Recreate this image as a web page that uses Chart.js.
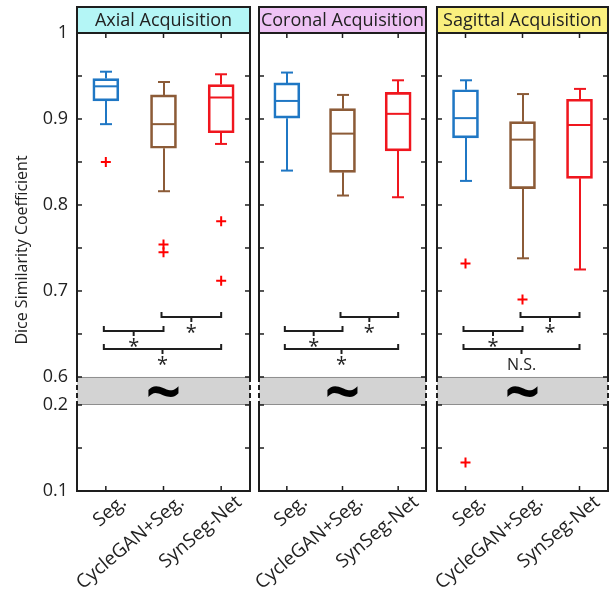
<!DOCTYPE html>
<html>
<head>
<meta charset="utf-8">
<script src="https://cdn.jsdelivr.net/npm/chart.js@4.4.1/dist/chart.umd.min.js"></script>
<style>
html,body{margin:0;padding:0;background:#fff;}
#wrap{position:relative;width:615px;height:589px;overflow:hidden;}
.pc{position:absolute;left:0;top:0;width:615px;height:589px;}
</style>
</head>
<body>
<div id="wrap">
  <div class="pc"><canvas id="c0"></canvas></div>
  <div class="pc"><canvas id="c1"></canvas></div>
  <div class="pc"><canvas id="c2"></canvas></div>
</div>
<script>
// ---------------- DATA ----------------
const categories = ['Seg.', 'CycleGAN+Seg.', 'SynSeg-Net'];
const panelTitles = ['Axial Acquisition', 'Coronal Acquisition', 'Sagittal Acquisition'];
const yAxisTitle = 'Dice Similarity Coefficient';
const yTickValues = [0.1, 0.2, 0.6, 0.7, 0.8, 0.9, 1.0];
const yTickLabels = ['0.1', '0.2', '0.6', '0.7', '0.8', '0.9', '1'];
const yMinorTicks = [0.1, 0.15, 0.2, 0.6, 0.65, 0.7, 0.75, 0.8, 0.85, 0.9, 0.95, 1.0];

const axialLow    = [0.894, 0.816, 0.871];
const axialQ1     = [0.921, 0.866, 0.884];
const axialMedian = [0.938, 0.894, 0.925];
const axialQ3     = [0.947, 0.928, 0.940];
const axialHigh   = [0.955, 0.943, 0.952];
const axialOutliers = [[0.850], [0.754, 0.745], [0.781, 0.712]];
const axialSig = ['*', '*', '*'];

const coronalLow    = [0.840, 0.811, 0.809];
const coronalQ1     = [0.901, 0.838, 0.863];
const coronalMedian = [0.921, 0.883, 0.906];
const coronalQ3     = [0.942, 0.912, 0.931];
const coronalHigh   = [0.954, 0.928, 0.945];
const coronalOutliers = [[], [], []];
const coronalSig = ['*', '*', '*'];

const sagittalLow    = [0.828, 0.738, 0.725];
const sagittalQ1     = [0.878, 0.819, 0.831];
const sagittalMedian = [0.901, 0.876, 0.893];
const sagittalQ3     = [0.934, 0.897, 0.923];
const sagittalHigh   = [0.945, 0.929, 0.935];
const sagittalOutliers = [[0.732, 0.133], [0.690], []];
const sagittalSig = ['*', '*', 'N.S.'];

// significance brackets: category pairs and the data level of each bracket
const bracketPairs = [[0, 1], [1, 2], [0, 2]];
const bracketLevels = [0.654, 0.670, 0.632];

// ---------------- STYLE / LAYOUT ----------------
const boxColors = ['#1f77c4', '#8c5b37', '#f0161e'];
const outlierColor = '#ff0000';
const headerColors = ['#b4f6f6', '#efc3f5', '#faf07e'];
const inkColor = '#1e1e1e';
const textColor = '#222';
const FONT = '"Open Sans", "Noto Sans", sans-serif';
const panelLeft  = [77, 259, 437];
const panelRight = [250, 426, 611];
const PLOT_TOP = 33, HEADER_TOP = 7, XAXIS_H = 98;

const stats = [
  {low: axialLow, q1: axialQ1, med: axialMedian, q3: axialQ3, high: axialHigh, out: axialOutliers, sig: axialSig},
  {low: coronalLow, q1: coronalQ1, med: coronalMedian, q3: coronalQ3, high: coronalHigh, out: coronalOutliers, sig: coronalSig},
  {low: sagittalLow, q1: sagittalQ1, med: sagittalMedian, q3: sagittalQ3, high: sagittalHigh, out: sagittalOutliers, sig: sagittalSig}
];

// ---------------- broken y scale ----------------
const BREAK_LO = 0.2, BREAK_HI = 0.6, BREAK_GAP = 0.0326;
class BrokenLinearScale extends Chart.LinearScale {
  static id = 'brokenLinear';
  static defaults = {};
  _tf(v) {
    if (v <= BREAK_LO) return v;
    if (v >= BREAK_HI) return v - (BREAK_HI - BREAK_LO) + BREAK_GAP;
    return BREAK_LO + (v - BREAK_LO) / (BREAK_HI - BREAK_LO) * BREAK_GAP;
  }
  _itf(t) {
    if (t <= BREAK_LO) return t;
    if (t >= BREAK_LO + BREAK_GAP) return t + (BREAK_HI - BREAK_LO) - BREAK_GAP;
    return BREAK_LO + (t - BREAK_LO) / BREAK_GAP * (BREAK_HI - BREAK_LO);
  }
  getPixelForValue(v) {
    if (v === null || v === undefined || isNaN(v)) return NaN;
    const a = this._tf(this.min), b = this._tf(this.max);
    return this.getPixelForDecimal((this._tf(v) - a) / (b - a));
  }
  getValueForPixel(p) {
    const a = this._tf(this.min), b = this._tf(this.max);
    return this._itf(a + this.getDecimalForPixel(p) * (b - a));
  }
}
Chart.register(BrokenLinearScale);

function seg(ctx, x1, y1, x2, y2) { ctx.beginPath(); ctx.moveTo(x1, y1); ctx.lineTo(x2, y2); ctx.stroke(); }

function makePlugin(p) {
  const s = stats[p];
  return {
    id: 'panelDecor' + p,
    beforeDatasetsDraw(chart) {
      const {ctx, chartArea: a} = chart;
      const y = chart.scales.y;
      const yt = y.getPixelForValue(BREAK_HI), yb = y.getPixelForValue(BREAK_LO);
      ctx.save();
      ctx.fillStyle = '#d3d3d3';
      ctx.fillRect(a.left, yt, a.right - a.left, yb - yt);
      ctx.strokeStyle = '#8e8e8e'; ctx.lineWidth = 1;
      seg(ctx, a.left, yt + 0.5, a.right, yt + 0.5);
      seg(ctx, a.left, yb - 0.5, a.right, yb - 0.5);
      ctx.fillStyle = '#000';
      ctx.font = 'bold 62px ' + FONT;
      ctx.textAlign = 'center'; ctx.textBaseline = 'middle';
      ctx.fillText('~', (a.left + a.right) / 2, (yt + yb) / 2 + 5);
      ctx.restore();
    },
    afterDatasetsDraw(chart) {
      const {ctx, chartArea: a} = chart;
      const x = chart.scales.x, y = chart.scales.y;
      ctx.save();
      // whiskers, caps, medians
      ctx.lineWidth = 2;
      for (let i = 0; i < categories.length; i++) {
        const cx = Math.round(x.getPixelForValue(i));
        ctx.strokeStyle = boxColors[i];
        const pl = y.getPixelForValue(s.low[i]), p1 = y.getPixelForValue(s.q1[i]);
        const p3 = y.getPixelForValue(s.q3[i]), ph = y.getPixelForValue(s.high[i]);
        const pm = y.getPixelForValue(s.med[i]);
        seg(ctx, cx, ph, cx, p3);
        seg(ctx, cx, p1, cx, pl);
        seg(ctx, cx - 6, ph, cx + 6, ph);
        seg(ctx, cx - 6, pl, cx + 6, pl);
        seg(ctx, cx - 12, pm, cx + 12, pm);
      }
      // significance brackets
      ctx.strokeStyle = inkColor; ctx.fillStyle = textColor; ctx.lineWidth = 2;
      ctx.textAlign = 'center';
      bracketPairs.forEach((pr, k) => {
        const xa = x.getPixelForValue(pr[0]) - 2, xb = x.getPixelForValue(pr[1]);
        const yy = Math.round(y.getPixelForValue(bracketLevels[k]));
        const xm = (xa + xb) / 2;
        ctx.beginPath();
        ctx.moveTo(xa, yy - 5); ctx.lineTo(xa, yy); ctx.lineTo(xb, yy); ctx.lineTo(xb, yy - 5);
        ctx.stroke();
        seg(ctx, xm, yy, xm, yy + 5);
        const lab = s.sig[k];
        if (lab === '*') {
          ctx.font = '20px ' + FONT; ctx.textBaseline = 'alphabetic';
          ctx.fillText(lab, xm, yy + 22);
        } else {
          ctx.font = '16px ' + FONT; ctx.textBaseline = 'middle';
          ctx.fillText(lab, xm, yy + 16);
        }
      });
      // frame
      const yt = y.getPixelForValue(BREAK_HI), yb = y.getPixelForValue(BREAK_LO);
      ctx.strokeStyle = inkColor; ctx.lineWidth = 2;
      [a.left, a.right].forEach(xx => {
        seg(ctx, xx, a.top, xx, yt);
        seg(ctx, xx, yb, xx, a.bottom + 1);
        ctx.setLineDash([5, 3]);
        seg(ctx, xx, yt, xx, yb);
        ctx.setLineDash([]);
      });
      seg(ctx, a.left - 1, a.bottom, a.right + 1, a.bottom);
      // inward ticks
      ctx.lineWidth = 1.5;
      yMinorTicks.forEach(v => {
        const yy = y.getPixelForValue(v);
        seg(ctx, a.left, yy, a.left + 5, yy);
        seg(ctx, a.right - 5, yy, a.right, yy);
      });
      for (let i = 0; i < categories.length; i++) {
        const cx = x.getPixelForValue(i);
        seg(ctx, cx, a.top, cx, a.top + 5);
        seg(ctx, cx, a.bottom, cx, a.bottom - 5);
      }
      // header
      ctx.fillStyle = headerColors[p];
      ctx.fillRect(a.left, HEADER_TOP, a.right - a.left, a.top - HEADER_TOP);
      ctx.lineWidth = 2; ctx.strokeStyle = inkColor;
      ctx.strokeRect(a.left, HEADER_TOP, a.right - a.left, a.top - HEADER_TOP);
      ctx.fillStyle = textColor; ctx.font = '18px ' + FONT;
      ctx.textAlign = 'center'; ctx.textBaseline = 'middle';
      ctx.fillText(panelTitles[p], (a.left + a.right) / 2, (HEADER_TOP + a.top) / 2 + 1);
      // y title (first panel only)
      if (p === 0) {
        ctx.save();
        ctx.translate(22, 250);
        ctx.rotate(-Math.PI / 2);
        ctx.font = '16px ' + FONT; ctx.fillStyle = textColor;
        ctx.textAlign = 'center'; ctx.textBaseline = 'middle';
        ctx.fillText(yAxisTitle, 0, 0);
        ctx.restore();
      }
      ctx.restore();
    }
  };
}

function makeChart(p) {
  const s = stats[p];
  const outlierPoints = [];
  s.out.forEach((arr, i) => arr.forEach(v => outlierPoints.push({x: categories[i], y: v})));
  return new Chart(document.getElementById('c' + p), {
    type: 'bar',
    data: {
      labels: categories,
      datasets: [
        {
          type: 'bar',
          data: s.q1.map((v, i) => [v, s.q3[i]]),
          backgroundColor: 'rgba(0,0,0,0)',
          borderColor: boxColors,
          borderWidth: 2,
          borderSkipped: false,
          barThickness: 26,
          grouped: false
        },
        {
          type: 'line',
          data: outlierPoints,
          showLine: false,
          pointStyle: 'cross',
          pointRadius: 5,
          pointBorderColor: outlierColor,
          pointBorderWidth: 2,
          pointBackgroundColor: outlierColor
        }
      ]
    },
    options: {
      responsive: true,
      maintainAspectRatio: false,
      animation: false,
      events: [],
      layout: {
        padding: {
          left: p === 0 ? 0 : panelLeft[p],
          right: 615 - panelRight[p],
          top: PLOT_TOP,
          bottom: 0
        }
      },
      plugins: {legend: {display: false}, tooltip: {enabled: false}, title: {display: false}},
      scales: {
        x: {
          type: 'category',
          offset: true,
          grid: {display: false, drawTicks: false},
          border: {display: false},
          ticks: {
            color: textColor,
            font: {family: FONT, size: 19},
            minRotation: 40, maxRotation: 40,
            padding: 0,
            labelOffset: 18,
            autoSkip: false
          },
          afterFit: sc => { sc.height = XAXIS_H; }
        },
        y: {
          type: 'brokenLinear',
          display: p === 0,
          min: 0.1, max: 1.0,
          grid: {display: false, drawTicks: false},
          border: {display: false},
          afterBuildTicks: sc => { sc.ticks = yTickValues.map(v => ({value: v})); },
          ticks: {
            color: textColor,
            font: {family: FONT, size: 18},
            padding: 9,
            autoSkip: false,
            callback: (v, i) => yTickLabels[i]
          },
          afterFit: sc => { sc.width = p === 0 ? panelLeft[0] : 0; }
        }
      }
    },
    plugins: [makePlugin(p)]
  });
}

[0, 1, 2].forEach(makeChart);
</script>
</body>
</html>
